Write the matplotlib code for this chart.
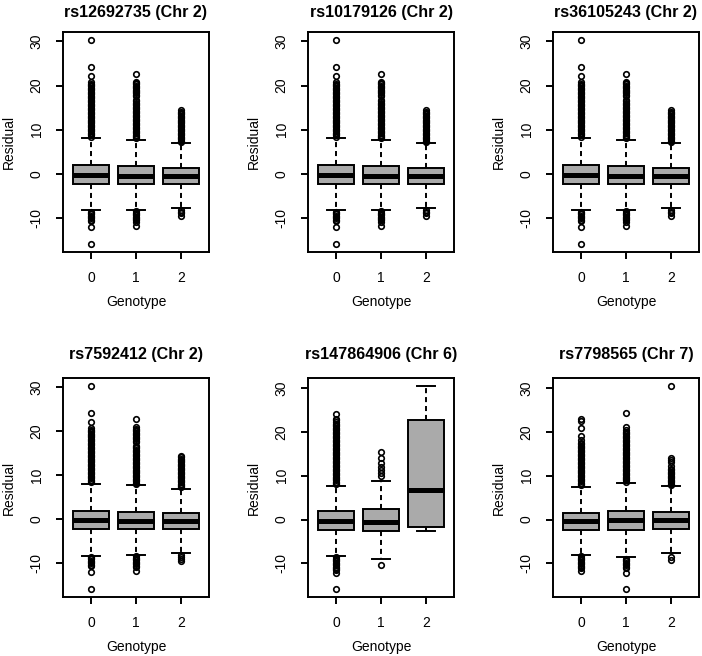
import matplotlib
matplotlib.use("Agg")
import matplotlib.pyplot as plt

plt.rcParams['font.family'] = ['Liberation Sans', 'DejaVu Sans']
plt.rcParams['axes.unicode_minus'] = False

genotypes = ['0', '1', '2']

# the four Chr 2 SNPs give practically the same picture
chr2_titles = ['rs12692735 (Chr 2)', 'rs10179126 (Chr 2)', 'rs36105243 (Chr 2)', 'rs7592412 (Chr 2)']
chr2_q1 = [-2.3, -2.3, -2.3]
chr2_med = [-0.2, -0.4, -0.4]
chr2_q3 = [1.9, 1.7, 1.4]
chr2_lo = [-8.3, -8.2, -7.7]
chr2_hi = [8.1, 7.7, 6.9]
chr2_fliers = [
    [8.4, 8.7, 9.0, 9.3, 9.6, 9.9, 10.2, 10.5, 10.8, 11.1, 11.4, 11.7, 12.0, 12.3, 12.6, 12.9,
     13.2, 13.5, 13.8, 14.1, 14.4, 14.7, 15.0, 15.3, 15.6, 15.9, 16.2, 16.5, 16.8, 17.1, 17.4,
     17.7, 18.0, 18.3, 18.6, 18.9, 19.2, 19.5, 19.8, 20.1, 20.4, 20.7, 22.2, 24.2, 30.3,
     -8.6, -8.9, -9.2, -9.5, -9.8, -10.1, -10.4, -10.7, -12.1, -15.9],
    [8.0, 8.3, 8.6, 8.9, 9.2, 9.5, 9.8, 10.1, 10.4, 10.7, 11.0, 11.3, 11.6, 11.9, 12.2, 12.5,
     12.8, 13.1, 13.4, 13.7, 14.0, 14.3, 14.6, 14.9, 15.2, 15.5, 15.8, 16.1, 16.4, 16.7,
     17.6, 17.9, 18.2, 18.5, 18.8, 19.1, 19.4, 19.7, 20.0, 20.3, 20.6, 20.9, 22.7,
     -8.5, -8.8, -9.1, -9.4, -9.7, -10.0, -10.3, -10.6, -11.0, -11.8],
    [7.2, 7.5, 7.8, 8.1, 8.4, 8.7, 9.0, 9.3, 9.6, 9.9, 10.2, 10.5, 10.8, 11.1, 11.4, 11.7,
     12.0, 12.3, 12.6, 12.9, 13.2, 13.5, 13.8, 14.1, 14.4,
     -8.2, -8.6, -9.0, -9.5],
]

chr6_title = 'rs147864906 (Chr 6)'
chr6_q1 = [-2.3, -2.5, -1.7]
chr6_med = [-0.3, -0.5, 6.8]
chr6_q3 = [1.9, 2.3, 22.6]
chr6_lo = [-8.3, -9.0, -2.5]
chr6_hi = [7.7, 8.7, 30.4]
chr6_fliers = [
    [8.0, 8.3, 8.6, 8.9, 9.2, 9.5, 9.8, 10.1, 10.4, 10.7, 11.0, 11.3, 11.6, 11.9, 12.2, 12.5,
     12.8, 13.1, 13.4, 13.7, 14.0, 14.3, 14.6, 14.9, 15.2, 15.5, 15.8, 16.1, 16.4, 16.7, 17.0,
     17.3, 17.6, 17.9, 18.2, 18.5, 18.8, 19.1, 19.4, 19.7, 20.0, 20.3, 20.6, 20.9, 21.2, 21.5,
     21.8, 22.2, 22.6, 23.0, 24.1,
     -8.6, -8.9, -9.2, -9.5, -9.8, -10.1, -10.4, -10.7, -11.0, -11.3, -11.6, -12.2, -15.8],
    [9.9, 10.6, 11.4, 12.0, 12.9, 14.1, 15.3, -10.4],
    [],
]

chr7_title = 'rs7798565 (Chr 7)'
chr7_q1 = [-2.3, -2.3, -2.2]
chr7_med = [-0.4, -0.2, 0.0]
chr7_q3 = [1.6, 2.0, 1.8]
chr7_lo = [-8.1, -8.6, -7.6]
chr7_hi = [7.5, 8.3, 7.6]
chr7_fliers = [
    [7.8, 8.1, 8.4, 8.7, 9.0, 9.3, 9.6, 9.9, 10.2, 10.5, 10.8, 11.1, 11.4, 11.7, 12.0, 12.3,
     12.6, 12.9, 13.2, 13.5, 13.8, 14.1, 14.4, 14.7, 15.0, 15.3, 15.6, 15.9, 16.2, 16.5, 16.8,
     17.1, 17.4, 18.1, 19.0, 20.8, 22.4, 22.9,
     -8.4, -8.7, -9.0, -9.3, -9.6, -9.9, -10.2, -10.5, -10.8, -11.1, -11.8],
    [8.6, 8.9, 9.2, 9.5, 9.8, 10.1, 10.4, 10.7, 11.0, 11.3, 11.6, 11.9, 12.2, 12.5, 12.8, 13.1,
     13.4, 13.7, 14.0, 14.3, 14.6, 14.9, 15.2, 15.5, 15.8, 16.1, 16.4, 16.7, 17.0, 17.3, 17.6,
     17.9, 18.2, 18.5, 18.8, 19.1, 19.4, 19.7, 20.0, 20.3, 21.0, 24.2,
     -8.9, -9.2, -9.5, -9.8, -10.1, -10.4, -10.7, -11.0, -12.1, -15.8],
    [7.9, 8.2, 8.5, 8.8, 9.1, 9.4, 9.7, 10.0, 10.3, 10.6, 10.9, 11.2, 11.5, 12.3, 13.0, 13.6,
     14.0, 30.4,
     -8.6, -9.2],
]

chr2 = (chr2_q1, chr2_med, chr2_q3, chr2_lo, chr2_hi, chr2_fliers)
chr6 = (chr6_q1, chr6_med, chr6_q3, chr6_lo, chr6_hi, chr6_fliers)
chr7 = (chr7_q1, chr7_med, chr7_q3, chr7_lo, chr7_hi, chr7_fliers)
panels = [(chr2_titles[0], chr2), (chr2_titles[1], chr2), (chr2_titles[2], chr2),
          (chr2_titles[3], chr2), (chr6_title, chr6), (chr7_title, chr7)]

W, H = 702, 656
fig = plt.figure(figsize=(W / 100, H / 100), dpi=100)

col_left = [63, 308, 553]
row_top = [32, 378]
row_bot = [252, 597]
title_pad = [10.7, 13.4]
ax_w = 146

for i, (title, data) in enumerate(panels):
    r, c = divmod(i, 3)
    q1, med, q3, lo, hi, fliers = data
    ax = fig.add_axes([col_left[c] / W, 1 - row_bot[r] / H, ax_w / W, (row_bot[r] - row_top[r]) / H])

    stats = []
    for k in range(3):
        stats.append(dict(q1=q1[k], med=med[k], q3=q3[k], whislo=lo[k], whishi=hi[k], fliers=fliers[k]))
    ax.bxp(stats, positions=[1, 2, 3], widths=0.8, capwidths=0.4, patch_artist=True,
           boxprops=dict(facecolor='#aaaaaa', edgecolor='black', linewidth=1.4),
           medianprops=dict(color='black', linewidth=3.6, solid_capstyle='butt'),
           whiskerprops=dict(color='black', linewidth=1.4, linestyle=(0, (2.6, 2.0))),
           capprops=dict(color='black', linewidth=1.4),
           flierprops=dict(marker='o', markerfacecolor='none', markeredgecolor='black',
                           markersize=4, markeredgewidth=1.2))

    allv = lo + hi + [v for f in fliers for v in f]
    ymin, ymax = min(allv), max(allv)
    span = ymax - ymin
    ax.set_ylim(ymin - 0.04 * span, ymax + 0.04 * span)
    ax.set_xlim(0.5 - 0.12, 3.5 + 0.12)

    ax.set_xticks([1, 2, 3], genotypes)
    ax.set_yticks([-10, 0, 10, 20, 30])
    ax.tick_params(length=5, width=1.4, labelsize=10, pad=9)
    ax.tick_params(axis='y', labelrotation=90)
    for lab in ax.get_yticklabels():
        lab.set_va('center')
    for s in ax.spines.values():
        s.set_linewidth(1.4)

    ax.set_title(title, fontsize=11.6, fontweight='bold', pad=title_pad[r])

    cx = (col_left[c] + ax_w / 2) / W
    fig.text(cx, 1 - (row_bot[r] + 50) / H, 'Genotype', ha='center', va='center', fontsize=10)
    fig.text((col_left[c] - 54) / W, 1 - (row_top[r] + row_bot[r]) / 2 / H, 'Residual',
             ha='center', va='center', rotation=90, fontsize=10)

fig.savefig('out.png', dpi=100)
